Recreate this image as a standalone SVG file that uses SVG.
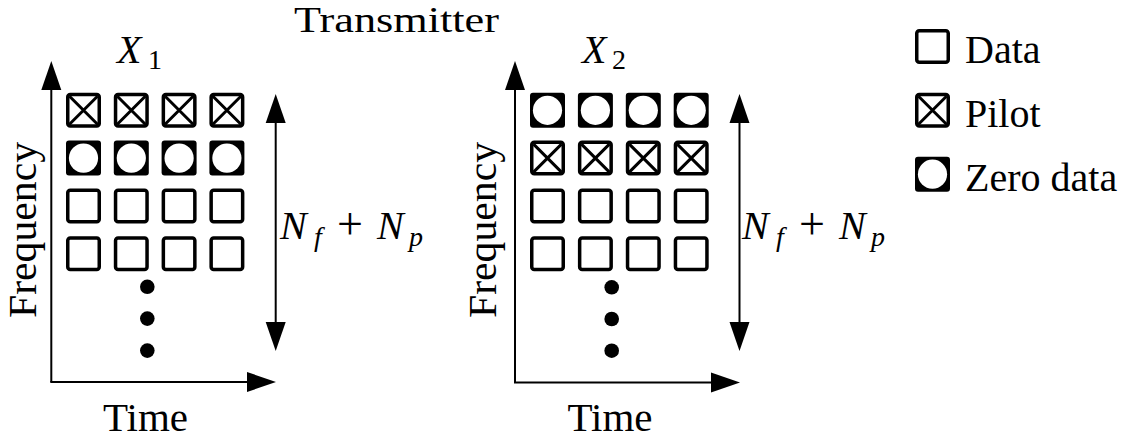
<svg xmlns="http://www.w3.org/2000/svg" xmlns:xlink="http://www.w3.org/1999/xlink" width="1144" height="443" viewBox="0 0 1144 443">
<style>
text{font-family:'Liberation Serif','DejaVu Serif','Times New Roman',serif;font-size:40px;fill:#000}
.i{font-style:italic}
.sub{font-size:28px}
.ax{stroke:#000;stroke-width:2;fill:none}
</style>
<defs>
<marker id="ah" markerUnits="userSpaceOnUse" markerWidth="30" markerHeight="22" viewBox="0 -11 30 22" refX="0" refY="0" orient="auto-start-reverse">
<path d="M0,-10 L29,0 L0,10 Z" fill="#000"/>
</marker>
<g id="sym-data"><rect x="1.75" y="1.75" width="31.5" height="31.5" rx="2.5" fill="#fff" stroke="#000" stroke-width="3.5"/></g>
<g id="sym-pilot"><rect x="1.75" y="1.75" width="31.5" height="31.5" rx="2.5" fill="#fff" stroke="#000" stroke-width="3.5"/><path d="M3.5 3.5 L31.5 31.5 M31.5 3.5 L3.5 31.5" stroke="#000" stroke-width="3"/></g>
<g id="sym-zero"><rect x="0" y="0" width="35" height="35" rx="3" fill="#000"/><circle cx="17.5" cy="17.5" r="14.6" fill="#fff"/></g>
</defs>
<rect width="1144" height="443" fill="#fff"/>

<g id="title"><text x="396.5" y="31.5" text-anchor="middle" style="font-size:36px" textLength="205" lengthAdjust="spacingAndGlyphs">Transmitter</text></g>

<g id="connectors">
<line class="ax" x1="51.3" y1="382" x2="51.3" y2="90" marker-end="url(#ah)"/>
<line class="ax" x1="50.3" y1="382" x2="247" y2="382" marker-end="url(#ah)"/>
<line class="ax" x1="275.7" y1="123" x2="275.7" y2="322" marker-start="url(#ah)" marker-end="url(#ah)"/>
<line class="ax" x1="515" y1="383" x2="515" y2="90" marker-end="url(#ah)"/>
<line class="ax" x1="514" y1="382.5" x2="711" y2="382.5" marker-end="url(#ah)"/>
<line class="ax" x1="739.5" y1="123" x2="739.5" y2="322" marker-start="url(#ah)" marker-end="url(#ah)"/>
</g>

<g id="panel-X1">
<text class="i" x="117" y="63">X</text><text class="sub" x="148" y="68.5">1</text>
<text transform="translate(36,230) rotate(-90)" text-anchor="middle" style="font-size:41px" textLength="176" lengthAdjust="spacingAndGlyphs">Frequency</text>
<text x="145.5" y="430.7" text-anchor="middle" style="font-size:41px">Time</text>
<g id="x1-grid">
<use xlink:href="#sym-pilot" x="66" y="92.8"/><use xlink:href="#sym-pilot" x="113.8" y="92.8"/><use xlink:href="#sym-pilot" x="161.6" y="92.8"/><use xlink:href="#sym-pilot" x="209.4" y="92.8"/>
<use xlink:href="#sym-zero" x="66" y="140.6"/><use xlink:href="#sym-zero" x="113.8" y="140.6"/><use xlink:href="#sym-zero" x="161.6" y="140.6"/><use xlink:href="#sym-zero" x="209.4" y="140.6"/>
<use xlink:href="#sym-data" x="66" y="188.4"/><use xlink:href="#sym-data" x="113.8" y="188.4"/><use xlink:href="#sym-data" x="161.6" y="188.4"/><use xlink:href="#sym-data" x="209.4" y="188.4"/>
<use xlink:href="#sym-data" x="66" y="236.2"/><use xlink:href="#sym-data" x="113.8" y="236.2"/><use xlink:href="#sym-data" x="161.6" y="236.2"/><use xlink:href="#sym-data" x="209.4" y="236.2"/>
</g>
<circle cx="147.3" cy="286.8" r="7.3"/><circle cx="147.3" cy="318.6" r="7.3"/><circle cx="147.3" cy="350.6" r="7.3"/>
<g id="x1-size">
<text class="i" x="280" y="239">N</text><text class="i sub" x="314" y="246">f</text>
<text x="337" y="239" style="font-size:46px">+</text>
<text class="i" x="377" y="239">N</text><text class="i sub" x="409" y="246">p</text>
</g>
</g>

<g id="panel-X2">
<text class="i" x="582" y="63">X</text><text class="sub" x="612" y="68.5">2</text>
<text transform="translate(496,230) rotate(-90)" text-anchor="middle" style="font-size:41px" textLength="176" lengthAdjust="spacingAndGlyphs">Frequency</text>
<text x="610" y="430.7" text-anchor="middle" style="font-size:41px">Time</text>
<g id="x2-grid">
<use xlink:href="#sym-zero" x="530" y="92.8"/><use xlink:href="#sym-zero" x="577.9" y="92.8"/><use xlink:href="#sym-zero" x="625.8" y="92.8"/><use xlink:href="#sym-zero" x="673.7" y="92.8"/>
<use xlink:href="#sym-pilot" x="530" y="140.6"/><use xlink:href="#sym-pilot" x="577.9" y="140.6"/><use xlink:href="#sym-pilot" x="625.8" y="140.6"/><use xlink:href="#sym-pilot" x="673.7" y="140.6"/>
<use xlink:href="#sym-data" x="530" y="188.4"/><use xlink:href="#sym-data" x="577.9" y="188.4"/><use xlink:href="#sym-data" x="625.8" y="188.4"/><use xlink:href="#sym-data" x="673.7" y="188.4"/>
<use xlink:href="#sym-data" x="530" y="236.2"/><use xlink:href="#sym-data" x="577.9" y="236.2"/><use xlink:href="#sym-data" x="625.8" y="236.2"/><use xlink:href="#sym-data" x="673.7" y="236.2"/>
</g>
<circle cx="611.7" cy="287.3" r="7.3"/><circle cx="611.7" cy="319" r="7.3"/><circle cx="611.7" cy="350.7" r="7.3"/>
<g id="x2-size">
<text class="i" x="742" y="238.5">N</text><text class="i sub" x="776" y="245.5">f</text>
<text x="799" y="238.5" style="font-size:46px">+</text>
<text class="i" x="839" y="238.5">N</text><text class="i sub" x="871" y="245.5">p</text>
</g>
</g>

<g id="legend">
<g id="legend-data"><use xlink:href="#sym-data" x="915" y="29"/><text x="965" y="63">Data</text></g>
<g id="legend-pilot"><use xlink:href="#sym-pilot" x="915" y="92.8"/><text x="965" y="127.3">Pilot</text></g>
<g id="legend-zero"><use xlink:href="#sym-zero" x="915" y="156.7"/><text x="965" y="191">Zero data</text></g>
</g>
</svg>
